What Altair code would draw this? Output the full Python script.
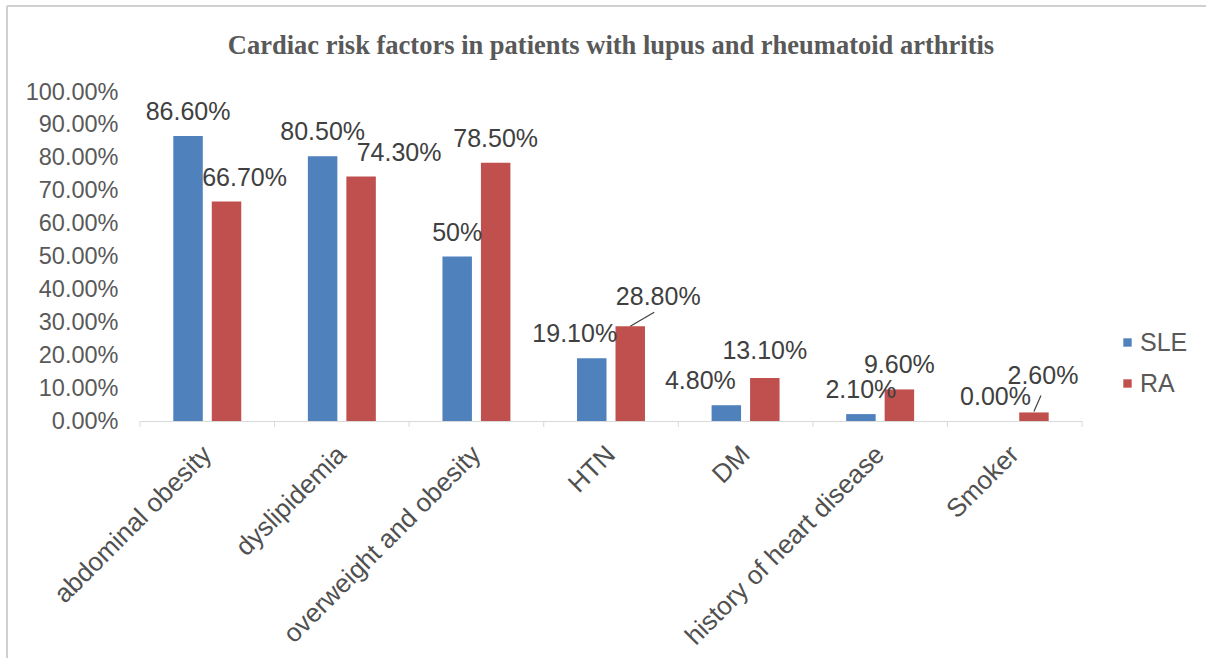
import altair as alt
import pandas as pd

categories = ["abdominal obesity", "dyslipidemia", "overweight and obesity", "HTN",
              "DM", "history of heart disease", "Smoker"]
series = ["SLE", "RA"]
sle_values = [0.866, 0.805, 0.50, 0.191, 0.048, 0.021, 0.0]
ra_values = [0.667, 0.743, 0.785, 0.288, 0.131, 0.096, 0.026]
sle_labels = ["86.60%", "80.50%", "50%", "19.10%", "4.80%", "2.10%", "0.00%"]
ra_labels = ["66.70%", "74.30%", "78.50%", "28.80%", "13.10%", "9.60%", "2.60%"]
y_ticks = [0.0, 0.1, 0.2, 0.3, 0.4, 0.5, 0.6, 0.7, 0.8, 0.9, 1.0]
title_text = "Cardiac risk factors in patients with lupus and rheumatoid arthritis"
colors = ["#4F81BD", "#C0504D"]

# manual label nudges (pixels), as in the original figure
label_nudges = {
    ("abdominal obesity", "RA"): (18, 0),
    ("dyslipidemia", "RA"): (38, 0),
    ("HTN", "SLE"): (-17, 0),
    ("HTN", "RA"): (28, -5),
    ("DM", "SLE"): (-26, 0),
    ("DM", "RA"): (0, -3),
    ("Smoker", "RA"): (9, -12),
}
# leader lines for moved labels: (start dx, start dy, end dx, end dy) in pixels
leaders = {
    ("HTN", "RA"): (-4, 0, 24, -14),
    ("Smoker", "RA"): (0, -1, 7, -17),
}

rows = []
for i, c in enumerate(categories):
    for s, vals, labs in (("SLE", sle_values, sle_labels), ("RA", ra_values, ra_labels)):
        ndx, ndy = label_nudges.get((c, s), (0, 0))
        l = leaders.get((c, s))
        rows.append({"category": c, "series": s, "value": vals[i], "label": labs[i],
                     "ndx": ndx, "ndy": ndy, "has_leader": l is not None,
                     "lx1": l[0] if l else 0, "ly1": l[1] if l else 0,
                     "lx2": l[2] if l else 0, "ly2": l[3] if l else 0})
df = pd.DataFrame(rows)

FONT = "Liberation Sans"
W, H = 942, 329
PAD_IN, PAD_OUT, SUB_PAD = 0.495, 0.2475, 0.234
step = W / (len(categories) - PAD_IN + 2 * PAD_OUT)
sub_half = step * (1 - PAD_IN) / (len(series) - SUB_PAD) / 2  # half of a sub-band step

x_enc = alt.X(
    "category:N", sort=categories,
    scale=alt.Scale(paddingInner=PAD_IN, paddingOuter=PAD_OUT),
    axis=alt.Axis(title=None, labelAngle=-45, labelAlign="right", labelBaseline="middle",
                  labelPadding=29, ticks=False, domainColor="#D9D9D9", domainWidth=1,
                  labelFont=FONT, labelFontSize=26, labelColor="#505050", labelLimit=500,
                  labelOverlap=False),
)
y_enc = alt.Y(
    "value:Q",
    scale=alt.Scale(domain=[0, 1], nice=False),
    axis=alt.Axis(title=None, values=y_ticks, tickCount=11, format=".2%", grid=False,
                  domain=False, ticks=False, labelPadding=22, labelFont=FONT,
                  labelFontSize=23.5, labelColor="#595959", labelOverlap=False),
)
xoff = alt.XOffset("series:N", sort=series,
                   scale=alt.Scale(paddingInner=SUB_PAD, paddingOuter=0))
color = alt.Color(
    "series:N", sort=series,
    scale=alt.Scale(domain=series, range=colors),
    legend=alt.Legend(title=None, orient="none", legendX=975, legendY=238,
                      symbolType="square", symbolSize=70, symbolStrokeWidth=0,
                      labelFont=FONT, labelFontSize=25, labelColor="#595959",
                      rowPadding=15, labelOffset=0, padding=0),
)

base = alt.Chart(df)
bars = base.mark_bar().encode(x=x_enc, y=y_enc, xOffset=xoff, color=color)
texts = base.mark_text(
    font=FONT, fontSize=25, color="#404040", baseline="middle", align="center",
    dx=alt.expr("datum.ndx"), dy=alt.expr("datum.ndy - 24"),
).encode(
    x=x_enc,
    y=y_enc,
    xOffset=xoff,
    text="label:N",
)
leader_lines = base.transform_filter(alt.datum.has_leader).mark_rule(
    color="#404040", strokeWidth=1.2,
    xOffset=alt.expr("datum.lx1"), yOffset=alt.expr("datum.ly1"),
    x2Offset=alt.expr(f"datum.lx2 + (datum.series == 'RA' ? {sub_half:.3f} : {-sub_half:.3f})"),
    y2Offset=alt.expr("datum.ly2"),
).encode(
    x=x_enc, x2=alt.X2("category"), y=y_enc, y2=alt.Y2("value"), xOffset=xoff,
)

tick_df = pd.DataFrame({"category": categories})
half_gap = step * PAD_IN / 2
ticks_l = alt.Chart(tick_df).mark_rule(color="#D9D9D9", xOffset=-half_gap).encode(
    x=alt.X("category:N", sort=categories, bandPosition=0),
    y=alt.value(H), y2=alt.value(H + 6),
)
ticks_r = alt.Chart(tick_df).transform_filter(
    alt.datum.category == categories[-1]
).mark_rule(color="#D9D9D9", xOffset=half_gap).encode(
    x=alt.X("category:N", sort=categories, bandPosition=1),
    y=alt.value(H), y2=alt.value(H + 6),
)

frame_df = pd.DataFrame({"k": [0]})
frame_top = alt.Chart(frame_df).mark_rule(color="#D0D0D0", strokeWidth=2).encode(
    x=alt.value(-133), x2=alt.value(1066), y=alt.value(-86))
frame_left = alt.Chart(frame_df).mark_rule(color="#D0D0D0", strokeWidth=2).encode(
    x=alt.value(-133), y=alt.value(-86), y2=alt.value(566))

chart = alt.layer(bars, texts, leader_lines, ticks_l, ticks_r, frame_top, frame_left).properties(
    width=W, height=H,
    title=alt.TitleParams(title_text, font="Liberation Serif", fontSize=26.5, fontWeight="bold",
                          color="#595959", anchor="middle", offset=0, baseline="alphabetic",
                          dy=75),
    autosize=alt.AutoSizeParams(type="none"),
    padding={"left": 140, "top": 92, "right": 124, "bottom": 241},
    background="white",
).configure_view(stroke=None)

chart.save("out.html", embed_options={"renderer": "svg", "actions": False})
